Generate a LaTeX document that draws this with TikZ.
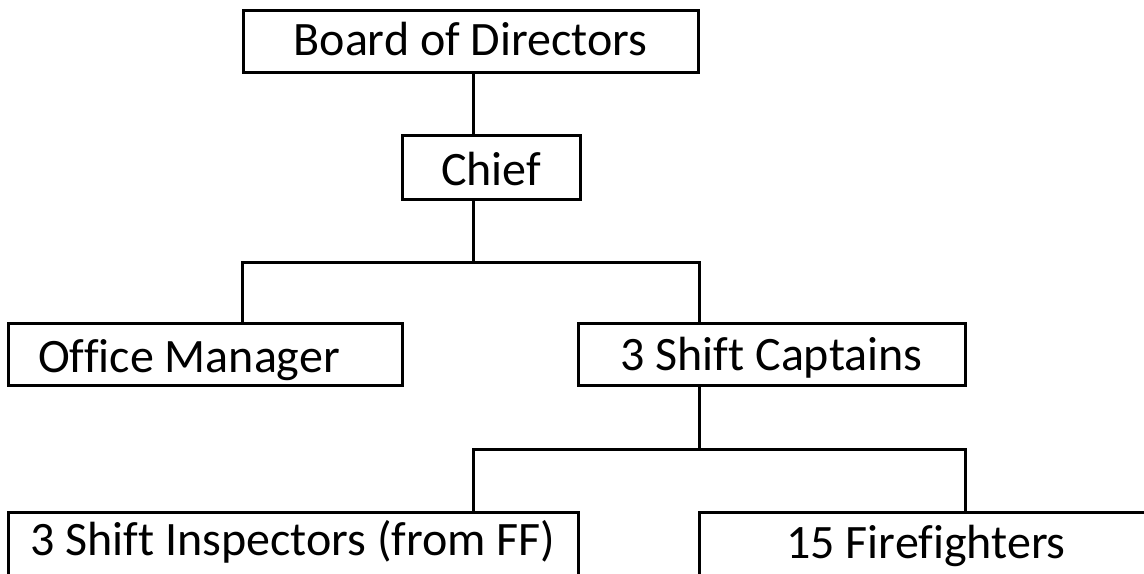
\documentclass[tikz,border=0pt]{standalone}
\usepackage{fontspec}
\setmainfont{Carlito}[Ligatures=CommonOff]
\usepackage{tikz}
\tikzset{%
  post/.style={%
    rectangle,
    draw=black,
    line width=1.5pt,
    minimum height=31pt,
    text height=16pt,
    text depth=0pt,
    font={\fontsize{24}{28}\selectfont},
    align=center%
  },
  tie/.style={%
    draw=black,
    line width=1.5pt,
    line join=miter%
  }
}

\begin{document}
\begin{tikzpicture}[x=0.5pt, y=-0.5pt]
    \useasboundingbox (0,0) rectangle (1144,573);
    \clip (0,0) rectangle (1144,573);

    \node [post, minimum width=227.5pt, text height=14pt] (Board) at (470.5,41) {Board of Directors};
    \node [post, minimum width=89pt, minimum height=32pt, text height=18pt] (Chief) at (491,167) {Chief};
    \node [post, minimum width=197pt, text height=18pt] (Office) at (205,354) {Office Manager\hspace*{16pt}};
    \node [post, minimum width=193.5pt, text height=15.5pt] (Captains) at (771.5,354.5) {3 Shift Captains};
    % bottom row runs off the lower edge
    \node [post, minimum width=285pt, minimum height=35pt, text height=8.5pt] (Inspectors) at (293,547) {3 Shift Inspectors (from FF)};
    \node [post, minimum width=227pt, minimum height=35pt, text height=11pt] (Firefighters) at (926,547) {15 Firefighters};

    % taps on the two busses
    \coordinate (ChiefTap) at (473,262);
    \coordinate (OfficeTap) at (242,262);
    \coordinate (CaptainsTap) at (699,262);
    \coordinate (CaptainsDrop) at (699,449);
    \coordinate (InspectorsTap) at (473,449);
    \coordinate (FirefightersTap) at (965,449);

    \draw [tie]
      (Board.south -| ChiefTap) -- (Chief.north -| ChiefTap);
    \draw [tie]
      (Chief.south -| ChiefTap) -- (ChiefTap);
    \draw [tie]
      (Office.north -| OfficeTap)
      --
      (OfficeTap)
      --
      (CaptainsTap)
      --
      (Captains.north -| CaptainsTap);
    \draw [tie]
      (Captains.south -| CaptainsDrop) -- (CaptainsDrop);
    \draw [tie]
      (Inspectors.north -| InspectorsTap)
      --
      (InspectorsTap)
      --
      (FirefightersTap)
      --
      (Firefighters.north -| FirefightersTap);
\end{tikzpicture}
\end{document}
